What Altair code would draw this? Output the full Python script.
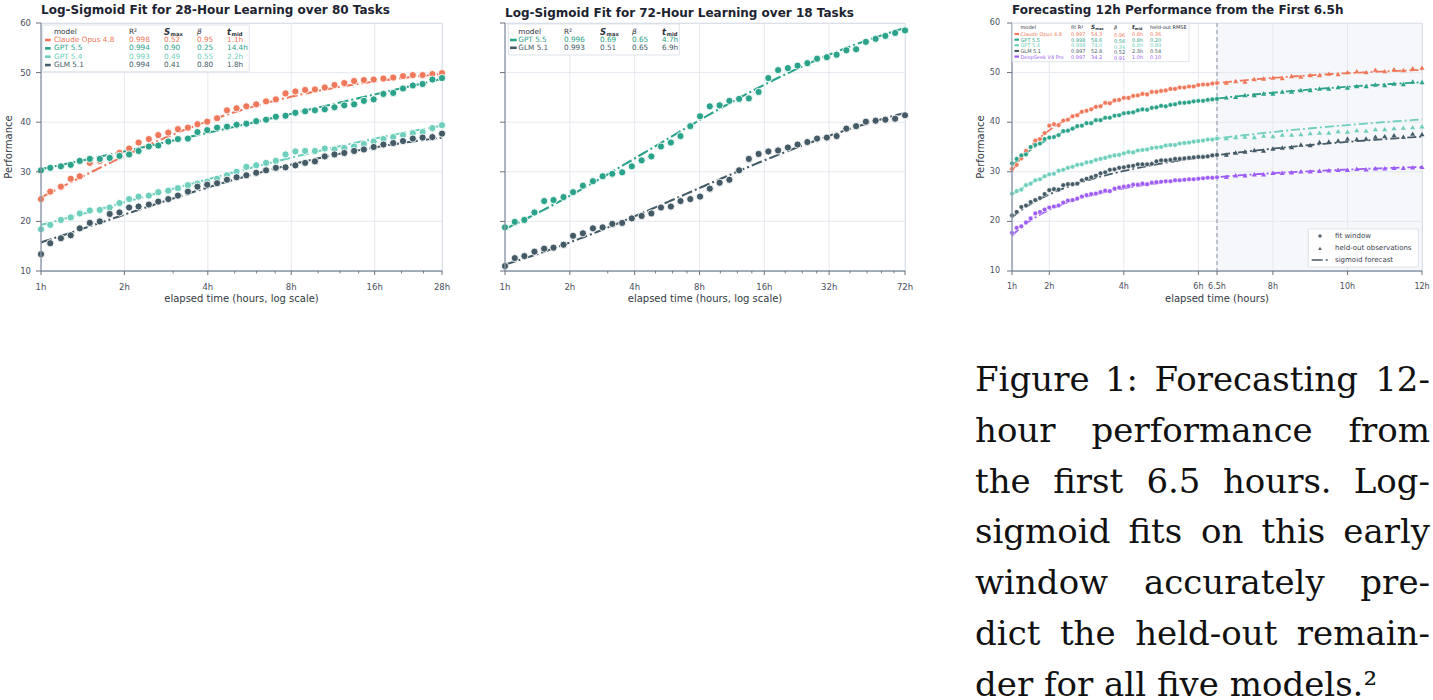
import altair as alt
import numpy as np
import pandas as pd

FONT = "DejaVu Sans"
SERIF = "DejaVu Serif"
INK = "#1d2330"
LABEL = "#4a505c"
AXIS_TITLE = "#333a45"
GRID = "#e3e7ee"
DOMAIN = "#8d98aa"
TICK = "#59616e"
FRAME = "#d7dde5"

MODELS = ["Claude Opus 4.8", "GPT 5.5", "GPT 5.4", "GLM 5.1", "DeepSeek V4 Pro"]
COLORS = ["#f0785a", "#2ba38a", "#6fcfbd", "#445b67", "#9d5cf5"]
COLOR = alt.Scale(domain=MODELS, range=COLORS)

PERF_TICKS = [10, 20, 30, 40, 50, 60]

# ---------------- 28-hour run, 80 tasks ----------------
A_NAMES = ["Claude Opus 4.8", "GPT 5.5", "GPT 5.4", "GLM 5.1"]
A_HOURS = [1.00, 1.08, 1.18, 1.28, 1.38, 1.50, 1.63, 1.77, 1.92, 2.08,
           2.25, 2.45, 2.65, 2.88, 3.12, 3.39, 3.67, 3.98, 4.32, 4.69,
           5.08, 5.51, 5.98, 6.49, 7.04, 7.63, 8.28, 8.98, 9.74, 10.57,
           11.46, 12.43, 13.49, 14.63, 15.87, 17.21, 18.67, 20.25, 21.97, 23.83,
           25.85, 28.00]
A_CLAUDE = [24.5, 26.0, 27.0, 28.6, 29.1, 31.8, 32.2, 32.9, 33.8, 34.7,
            35.9, 36.6, 37.4, 37.9, 38.6, 38.9, 39.6, 40.1, 40.8, 42.4,
            42.8, 43.2, 43.6, 44.2, 44.6, 45.8, 46.2, 46.5, 46.6, 47.0,
            47.5, 47.9, 48.3, 48.5, 48.6, 48.8, 49.0, 49.3, 49.5, 49.5,
            49.7, 49.9]
A_GPT55 = [30.3, 30.8, 31.1, 31.4, 32.2, 32.6, 32.6, 32.8, 33.2, 33.5,
           34.2, 35.1, 35.3, 36.1, 36.6, 36.7, 38.0, 38.4, 38.9, 39.1,
           39.5, 39.7, 40.2, 40.5, 41.1, 41.3, 41.9, 42.2, 42.4, 42.6,
           43.0, 43.4, 43.6, 44.3, 44.6, 45.7, 45.9, 46.8, 47.4, 47.7,
           48.6, 48.9]
A_GPT54 = [18.4, 19.3, 20.3, 20.8, 21.6, 22.2, 22.3, 22.8, 23.7, 24.5,
           25.0, 25.2, 25.9, 26.2, 26.7, 27.3, 27.6, 28.0, 28.6, 29.3,
           30.0, 31.0, 31.3, 31.8, 32.2, 33.5, 34.1, 34.2, 34.2, 34.7,
           34.5, 34.8, 35.1, 35.6, 36.1, 36.6, 37.0, 37.4, 37.8, 38.0,
           38.8, 39.4]
A_GLM = [13.4, 15.6, 16.6, 17.2, 18.6, 19.7, 20.0, 21.5, 21.8, 22.8,
         23.0, 23.4, 24.0, 24.5, 25.2, 26.0, 27.0, 27.4, 27.7, 28.4,
         28.9, 29.3, 29.8, 30.3, 30.8, 30.9, 31.3, 31.8, 32.1, 33.1,
         33.5, 33.8, 34.2, 34.5, 35.0, 35.5, 35.8, 36.2, 36.7, 36.9,
         37.0, 37.7]
A_R2 = [0.998, 0.994, 0.993, 0.994]
A_SMAX = [0.52, 0.90, 0.49, 0.41]
A_BETA = [0.95, 0.25, 0.55, 0.80]
A_TMID = [1.1, 14.4, 2.2, 1.8]
A_MAJOR = [1, 2, 4, 8, 16, 28]
A_MINOR = [3, 5, 6, 7, 10, 12, 14, 20, 24]

# ---------------- 72-hour run, 18 tasks ----------------
B_NAMES = ["GPT 5.5", "GLM 5.1"]
B_HOURS = [1.00, 1.11, 1.23, 1.37, 1.52, 1.68, 1.87, 2.07, 2.30, 2.56,
           2.84, 3.15, 3.50, 3.88, 4.31, 4.78, 5.30, 5.89, 6.53, 7.25,
           8.05, 8.93, 9.92, 11.01, 12.22, 13.56, 15.05, 16.70, 18.54, 20.58,
           22.84, 25.35, 28.13, 31.22, 34.66, 38.47, 42.69, 47.39, 52.59, 58.37,
           64.79, 72.00]
B_GPT55 = [18.8, 19.9, 20.3, 21.8, 24.1, 24.3, 24.9, 25.9, 27.2, 28.1,
           29.1, 29.6, 29.9, 31.1, 32.3, 33.1, 35.1, 35.9, 37.2, 39.2,
           41.2, 43.2, 43.4, 44.3, 44.7, 44.8, 46.1, 48.9, 50.5, 50.9,
           51.4, 51.9, 52.8, 53.1, 53.6, 54.5, 54.7, 56.2, 56.8, 57.4,
           58.0, 58.5]
B_GLM = [11.0, 12.6, 13.0, 13.9, 14.5, 14.7, 15.3, 17.1, 17.6, 18.6,
         18.8, 19.5, 19.7, 20.6, 21.1, 21.6, 22.8, 23.0, 24.1, 24.5,
         25.0, 26.6, 27.8, 28.4, 30.3, 32.6, 33.6, 34.1, 34.3, 34.9,
         35.5, 36.0, 36.7, 36.9, 37.2, 38.7, 39.2, 40.1, 40.3, 40.5,
         40.7, 41.4]
B_R2 = [0.996, 0.993]
B_SMAX = [0.69, 0.51]
B_BETA = [0.65, 0.65]
B_TMID = [4.7, 6.9]
B_MAJOR = [1, 2, 4, 8, 16, 32, 72]
B_MINOR = [3, 5, 6, 7, 10, 12, 14, 20, 24, 28, 40, 48, 56, 64]

# ---------------- 12-hour forecast from the first 6.5 h ----------------
C_FIT_HOURS = [1.0, 1.125, 1.25, 1.375, 1.5, 1.625, 1.75, 1.875, 2.0, 2.125,
               2.25, 2.375, 2.5, 2.625, 2.75, 2.875, 3.0, 3.125, 3.25, 3.375,
               3.5, 3.625, 3.75, 3.875, 4.0, 4.125, 4.25, 4.375, 4.5, 4.625,
               4.75, 4.875, 5.0, 5.125, 5.25, 5.375, 5.5, 5.625, 5.75, 5.875,
               6.0, 6.125, 6.25, 6.375, 6.5]
C_HELD_HOURS = [6.75, 7.0, 7.25, 7.5, 7.75, 8.0, 8.25, 8.5, 8.75, 9.0, 9.25,
                9.5, 9.75, 10.0, 10.25, 10.5, 10.75, 11.0, 11.25, 11.5, 11.75, 12.0]
C_FIT = {
    "Claude Opus 4.8": [30.6, 31.4, 32.7, 34.2, 34.9, 36.3, 36.6, 37.8, 39.3, 39.6,
                        39.4, 40.3, 40.5, 41.2, 41.4, 42.1, 42.3, 42.6, 43.1, 43.2,
                        43.9, 43.8, 44.4, 44.5, 44.9, 44.9, 45.3, 45.4, 45.7, 45.6,
                        46.1, 46.1, 46.3, 46.4, 46.7, 46.7, 47.0, 47.0, 47.2, 47.2,
                        47.5, 47.6, 47.6, 47.8, 47.9],
    "GPT 5.5": [31.7, 32.6, 33.3, 33.5, 35.0, 35.4, 35.7, 36.6, 36.9, 37.0,
                37.4, 38.2, 38.3, 38.7, 39.2, 39.3, 39.8, 39.8, 40.4, 40.4,
                40.9, 40.9, 41.3, 41.4, 41.8, 41.9, 42.0, 42.4, 42.6, 42.5,
                42.9, 43.0, 43.3, 43.2, 43.5, 43.6, 43.9, 43.9, 44.0, 44.2,
                44.3, 44.3, 44.5, 44.6, 44.7],
    "GPT 5.4": [25.6, 26.1, 26.4, 27.3, 27.6, 28.3, 28.5, 29.1, 29.5, 29.6,
                30.2, 30.4, 30.8, 31.0, 31.4, 31.5, 31.9, 32.0, 32.4, 32.6,
                32.8, 33.1, 33.3, 33.4, 33.7, 34.0, 33.9, 34.3, 34.4, 34.5,
                34.8, 34.9, 35.0, 35.3, 35.4, 35.4, 35.7, 35.8, 35.9, 36.1,
                36.2, 36.3, 36.5, 36.5, 36.7],
    "GLM 5.1": [21.2, 21.9, 22.9, 23.2, 23.9, 24.3, 24.7, 25.5, 26.3, 26.5,
                26.4, 27.3, 27.5, 27.5, 27.6, 28.3, 28.6, 28.9, 29.2, 29.7,
                29.9, 30.4, 30.5, 30.8, 30.9, 31.1, 31.2, 31.5, 31.5, 31.5,
                31.6, 32.1, 32.3, 32.3, 32.4, 32.6, 32.6, 32.7, 32.8, 32.9,
                33.0, 33.0, 33.1, 33.3, 33.4],
    "DeepSeek V4 Pro": [17.7, 18.7, 19.0, 19.8, 20.6, 21.6, 21.9, 22.4, 22.8, 23.0,
                        23.2, 23.8, 24.2, 24.3, 24.6, 25.0, 25.3, 25.5, 25.6, 25.9,
                        26.2, 26.1, 26.6, 26.8, 27.0, 27.1, 27.4, 27.4, 27.6, 27.5,
                        27.8, 27.9, 28.0, 28.1, 28.1, 28.3, 28.3, 28.4, 28.5, 28.5,
                        28.6, 28.7, 28.8, 28.8, 28.9],
}
C_HELD = {
    "Claude Opus 4.8": [48.0, 48.3, 48.2, 48.7, 48.8, 49.0, 48.9, 49.3, 49.2, 49.5, 49.5,
                        49.8, 49.7, 50.1, 50.3, 50.1, 50.6, 50.3, 50.7, 50.5, 50.9, 51.0],
    "GPT 5.5": [45.0, 45.1, 45.5, 45.5, 45.8, 45.8, 46.2, 46.2, 46.5, 46.5, 46.8,
                46.8, 47.1, 47.0, 47.3, 47.3, 47.6, 47.5, 47.8, 47.7, 48.2, 48.1],
    "GPT 5.4": [36.8, 37.0, 37.1, 37.0, 37.3, 37.2, 37.5, 37.5, 37.6, 37.8, 37.9,
                37.9, 38.2, 38.1, 38.4, 38.3, 38.6, 38.6, 38.8, 38.9, 39.0, 39.2],
    "GLM 5.1": [33.5, 33.9, 34.1, 34.4, 34.3, 34.7, 34.9, 35.0, 35.5, 35.4, 36.0,
                36.1, 36.3, 36.7, 36.6, 36.7, 37.1, 37.2, 37.4, 37.1, 37.7, 37.6],
    "DeepSeek V4 Pro": [29.0, 29.3, 29.3, 29.5, 29.5, 29.8, 29.8, 29.9, 30.1, 30.1, 30.2,
                        30.3, 30.4, 30.4, 30.6, 30.5, 30.7, 30.7, 30.8, 30.8, 30.9, 31.0],
}
C_R2 = [0.997, 0.998, 0.998, 0.997, 0.997]
C_SMAX = [54.3, 58.6, 74.0, 52.8, 34.2]
C_BETA = [0.96, 0.56, 0.34, 0.52, 0.91]
C_TMID = [0.8, 0.8, 6.8, 2.3, 1.0]
C_RMSE = [0.36, 0.20, 0.89, 0.54, 0.10]
C_SPLIT = 6.5
C_END = 12.0
C_TICKS = [1, 2, 4, 6, 6.5, 8, 10, 12]
KEY_LABELS = ["fit window", "held-out observations", "sigmoid forecast"]

CAPTION = [
    "Figure 1: Forecasting 12-",
    "hour performance from",
    "the first 6.5 hours. Log-",
    "sigmoid fits on this early",
    "window accurately pre-",
    "dict the held-out remain-",
    "der for all five models.\u00b2",
]

W1, W2, W3, H = 401, 400, 410, 248
ONE = pd.DataFrame({"k": [0]})
Y_SCALE = alt.Scale(domain=[10, 60], nice=False, zero=False)

# approximate advance widths (em) of DejaVu Serif, used to justify the caption lines
SERIF_EM = {
    " ": 0.318, "a": 0.594, "b": 0.640, "c": 0.560, "d": 0.640, "e": 0.592, "f": 0.370,
    "g": 0.640, "h": 0.644, "i": 0.320, "l": 0.320, "m": 0.948, "n": 0.644, "o": 0.602,
    "p": 0.640, "r": 0.478, "s": 0.513, "t": 0.402, "u": 0.644, "v": 0.565, "w": 0.855,
    "y": 0.565, "F": 0.667, "L": 0.653, ".": 0.318, ":": 0.337, "-": 0.338,
    "1": 0.636, "2": 0.636, "5": 0.636, "6": 0.636,
}


def log_sigmoid(t, smax, beta, tmid):
    return smax / (1.0 + (t / tmid) ** (-beta))


def points_frame(hours, names, series):
    rows = []
    for name, vals in zip(names, series):
        for t, v in zip(hours, vals):
            rows.append({"model": name, "t": t, "v": v})
    return pd.DataFrame(rows)


def curve_frame(grid, names, smax, beta, tmid, unit):
    rows = []
    for name, s, b, tm in zip(names, smax, beta, tmid):
        for t in grid:
            rows.append({"model": name, "t": float(t), "v": log_sigmoid(float(t), unit * s, b, tm)})
    return pd.DataFrame(rows)


def hour_label(v):
    return f"{v:g}h"


# overlay marks (tables, keys, caption) use a pixel-for-pixel scale
def ox(field, w):
    return alt.X(f"{field}:Q", scale=alt.Scale(domain=[0, w], range=[0, w], nice=False, zero=False),
                 axis=None)


def oy(field):
    return alt.Y(f"{field}:Q", scale=alt.Scale(domain=[0, H], range=[0, H], nice=False, zero=False),
                 axis=None)


def color_enc():
    return alt.Color("model:N", scale=COLOR, legend=None)


def frame_box(x0, y0, x1, y1):
    return alt.Chart(ONE).mark_rect(fill="white", stroke=FRAME, strokeWidth=0.8).encode(
        x=alt.value(x0), x2=alt.value(x1), y=alt.value(y0), y2=alt.value(y1))


def stat_table(names, columns, lay, w):
    rows_y = [lay["row0"] + lay["dy"] * i for i in range(len(names))]
    cells = []
    for i, name in enumerate(names):
        cells.append({"model": name, "txt": name, "cx": lay["cols"][0], "cy": rows_y[i]})
        for j, col in enumerate(columns):
            cells.append({"model": name, "txt": col[i], "cx": lay["cols"][j + 1],
                          "cy": rows_y[i] + lay["shift"][j]})
    cells = pd.DataFrame(cells)
    marks = pd.DataFrame({"model": names, "sx": lay["sym"][0], "sx2": lay["sym"][1], "cy": rows_y})
    layers = [
        frame_box(*lay["box"]),
        alt.Chart(marks).mark_rule(strokeWidth=lay["sw"]).encode(
            x=ox("sx", w), x2="sx2:Q", y=oy("cy"), color=color_enc()),
        alt.Chart(cells).mark_text(align="left", baseline="middle", fontSize=lay["fs"]).encode(
            x=ox("cx", w), y=oy("cy"), text="txt:N", color=color_enc()),
    ]
    styles = {
        "plain": dict(fontSize=lay["fs"]),
        "ital": dict(fontSize=lay["fs"], fontStyle="italic"),
        "sym": dict(fontSize=lay["sym_fs"], fontStyle="italic", fontWeight="bold"),
        "sub": dict(fontSize=lay["sub_fs"], fontWeight="bold", dy=lay["sub_dy"]),
    }
    for kind, style in styles.items():
        items = [h for h in lay["head"] if h[2] == kind]
        if not items:
            continue
        hdf = pd.DataFrame({"txt": [h[0] for h in items], "cx": [h[1] for h in items],
                            "cy": lay["head_y"]})
        layers.append(alt.Chart(hdf).mark_text(align="left", baseline="middle", color="#2b313b",
                                               **style).encode(x=ox("cx", w), y=oy("cy"), text="txt:N"))
    return layers


def frame_layers(xs, width, major, minor, x_fs, x_title, y_title, y_fs, y_label_x, y_title_x):
    """Grid, spines, ticks, tick labels and axis titles, drawn as marks on the panel scales."""
    xdf = pd.DataFrame({"t": major, "lab": [hour_label(v) for v in major]})
    ydf = pd.DataFrame({"v": PERF_TICKS, "lab": [str(v) for v in PERF_TICKS]})
    xpos = alt.X("t:Q", scale=xs, axis=None)
    ypos = alt.Y("v:Q", scale=Y_SCALE, axis=None)
    grid = [
        alt.Chart(xdf).mark_rule(color=GRID, strokeWidth=0.9).encode(
            x=xpos, y=alt.value(0), y2=alt.value(H)),
        alt.Chart(ydf).mark_rule(color=GRID, strokeWidth=0.9).encode(
            y=ypos, x=alt.value(0), x2=alt.value(width)),
    ]
    guides = [
        alt.Chart(ONE).mark_rule(color=DOMAIN, strokeWidth=1.3).encode(
            x=alt.value(0), x2=alt.value(width), y=alt.value(H)),
        alt.Chart(ONE).mark_rule(color=DOMAIN, strokeWidth=1.3).encode(
            x=alt.value(0), y=alt.value(0), y2=alt.value(H)),
        alt.Chart(xdf).mark_rule(color=TICK, strokeWidth=0.9).encode(
            x=xpos, y=alt.value(H), y2=alt.value(H + 4)),
        alt.Chart(ydf).mark_rule(color=TICK, strokeWidth=0.9).encode(
            y=ypos, x=alt.value(-5), x2=alt.value(0)),
        alt.Chart(xdf).mark_text(align="center", baseline="middle", fontSize=x_fs, color=LABEL).encode(
            x=xpos, y=alt.value(H + 16), text="lab:N"),
        alt.Chart(ONE).mark_text(text=x_title, align="center", baseline="middle", fontSize=10,
                                 color=AXIS_TITLE).encode(x=alt.value(width / 2), y=alt.value(H + 28)),
    ]
    if minor:
        guides.append(alt.Chart(pd.DataFrame({"t": minor})).mark_rule(color=TICK, strokeWidth=0.8).encode(
            x=xpos, y=alt.value(H), y2=alt.value(H + 2.5)))
    if y_title:
        guides.append(alt.Chart(ydf).mark_text(align="right", baseline="middle", fontSize=y_fs,
                                               color=LABEL).encode(
            y=ypos, x=alt.value(y_label_x), text="lab:N"))
        guides.append(alt.Chart(ONE).mark_text(text=y_title, align="center", baseline="middle", angle=270,
                                               fontSize=10, color=AXIS_TITLE).encode(
            x=alt.value(y_title_x), y=alt.value(H / 2)))
    return grid, guides


def panel_title(text):
    return alt.TitleParams(text, anchor="start", frame="group", fontSize=12, fontWeight="bold",
                           color=INK, offset=2)


def combine(data_layers, overlay_layers, width, title):
    return alt.layer(alt.layer(*data_layers), alt.layer(*overlay_layers)).resolve_scale(
        x="independent", y="independent").properties(width=width, height=H, title=panel_title(title))


def log_panel(title, names, hours, series, r2, smax, beta, tmid, xmax, major, minor,
              width, show_y, lay):
    xs = alt.Scale(type="log", domain=[1, xmax], nice=False)
    pts = points_frame(hours, names, series)
    fit = curve_frame(np.geomspace(1, xmax, 160), names, smax, beta, tmid, 100.0)
    lines = alt.Chart(fit).mark_line(strokeWidth=2.1, strokeDash=[11, 3, 2, 3]).encode(
        x=alt.X("t:Q", scale=xs, axis=None), y=alt.Y("v:Q", scale=Y_SCALE, axis=None),
        color=color_enc(), detail="model:N")
    dots = alt.Chart(pts).mark_circle(size=52, opacity=1, stroke="white", strokeWidth=0.9).encode(
        x=alt.X("t:Q", scale=xs, axis=None), y=alt.Y("v:Q", scale=Y_SCALE, axis=None),
        color=color_enc())
    grid, guides = frame_layers(xs, width, major, minor, 8.5, "elapsed time (hours, log scale)",
                                "Performance" if show_y else None, 8.5, -10, -32.3)
    cols = [[f"{v:.3f}" for v in r2], [f"{v:.2f}" for v in smax],
            [f"{v:.2f}" for v in beta], [f"{v:.1f}h" for v in tmid]]
    table = stat_table(names, cols, lay, width)
    return combine(grid + [lines, dots] + guides, table, width, title)


LAY_A = dict(box=(1.7, 2, 208.3, 48.7), row0=17, dy=8.35, head_y=8.8, fs=7.3, sym_fs=8.5,
             sub_fs=5.2, sub_dy=2, sw=2.6, sym=(4, 9.7), cols=[13, 88, 123, 156, 186],
             shift=[0, 0, 0, 0],
             head=[("model", 13, "plain"), ("R\u00b2", 88, "plain"), ("S", 123, "sym"),
                   ("max", 129.5, "sub"), ("\u03b2", 156, "ital"), ("t", 186, "sym"),
                   ("mid", 190.5, "sub")])
LAY_B = dict(box=(3.3, 1, 174.3, 32), row0=17, dy=7.8, head_y=8.7, fs=7.3, sym_fs=8.5,
             sub_fs=5.2, sub_dy=2, sw=2.6, sym=(5, 11.7), cols=[13.3, 59, 95, 127, 157],
             shift=[0, 0, 0, 0],
             head=[("model", 13.3, "plain"), ("R\u00b2", 59, "plain"), ("S", 95, "sym"),
                   ("max", 101.5, "sub"), ("\u03b2", 127, "ital"), ("t", 157, "sym"),
                   ("mid", 161.5, "sub")])
LAY_C = dict(box=(0.5, 0.3, 177, 38.7), row0=11, dy=5.65, head_y=4.3, fs=5, sym_fs=5.8,
             sub_fs=3.6, sub_dy=1.3, sw=2.2, sym=(2.5, 7), cols=[8.5, 59, 79, 102, 120, 138],
             shift=[0, 0, 1.3, 0, 0],
             head=[("model", 8.5, "plain"), ("fit R\u00b2", 59, "plain"), ("S", 79, "sym"),
                   ("max", 83.2, "sub"), ("\u03b2", 102, "ital"), ("t", 120, "sym"),
                   ("mid", 122.8, "sub"), ("held-out RMSE", 138, "plain")])

p1 = log_panel("Log-Sigmoid Fit for 28-Hour Learning over 80 Tasks", A_NAMES, A_HOURS,
               [A_CLAUDE, A_GPT55, A_GPT54, A_GLM], A_R2, A_SMAX, A_BETA, A_TMID,
               28, A_MAJOR, A_MINOR, W1, True, LAY_A)
p2 = log_panel("Log-Sigmoid Fit for 72-Hour Learning over 18 Tasks", B_NAMES, B_HOURS,
               [B_GPT55, B_GLM], B_R2, B_SMAX, B_BETA, B_TMID,
               72, B_MAJOR, B_MINOR, W2, False, LAY_B)

# ---- forecast panel ----
xs3 = alt.Scale(domain=[1, C_END], nice=False, zero=False)
fit_pts = points_frame(C_FIT_HOURS, MODELS, [C_FIT[m] for m in MODELS])
held_pts = points_frame(C_HELD_HOURS, MODELS, [C_HELD[m] for m in MODELS])
c_curve = curve_frame(np.linspace(1, C_END, 160), MODELS, C_SMAX, C_BETA, C_TMID, 1.0)

shade = alt.Chart(pd.DataFrame({"t0": [C_SPLIT], "t1": [C_END]})).mark_rect(
    color="#e9edf4", opacity=0.45).encode(
    x=alt.X("t0:Q", scale=xs3, axis=None), x2="t1:Q", y=alt.value(0), y2=alt.value(H))
split_rule = alt.Chart(pd.DataFrame({"t": [C_SPLIT]})).mark_rule(
    color="#8792a5", strokeDash=[4, 3], strokeWidth=1).encode(
    x=alt.X("t:Q", scale=xs3, axis=None), y=alt.value(0), y2=alt.value(H))
c_lines = alt.Chart(c_curve).mark_line(strokeWidth=1.8, strokeDash=[9, 3, 2, 3]).encode(
    x=alt.X("t:Q", scale=xs3, axis=None), y=alt.Y("v:Q", scale=Y_SCALE, axis=None),
    color=color_enc(), detail="model:N")
c_dots = alt.Chart(fit_pts).mark_circle(size=22, opacity=1, stroke="white", strokeWidth=0.5).encode(
    x=alt.X("t:Q", scale=xs3, axis=None), y=alt.Y("v:Q", scale=Y_SCALE, axis=None), color=color_enc())
c_tri = alt.Chart(held_pts).mark_point(shape="triangle-up", filled=True, size=26, opacity=1).encode(
    x=alt.X("t:Q", scale=xs3, axis=None), y=alt.Y("v:Q", scale=Y_SCALE, axis=None), color=color_enc())
c_grid, c_guides = frame_layers(xs3, W3, C_TICKS, [], 8, "elapsed time (hours)", "Performance",
                                8, -12, -31)

c_cols = [[f"{v:.3f}" for v in C_R2], [f"{v:.1f}" for v in C_SMAX], [f"{v:.2f}" for v in C_BETA],
          [f"{v:.1f}h" for v in C_TMID], [f"{v:.2f}" for v in C_RMSE]]
c_table = stat_table(MODELS, c_cols, LAY_C, W3)

KEY_INK = "#56656f"
key_box = frame_box(296.3, 206, 406.3, 244)
key_dot = alt.Chart(ONE).mark_point(shape="circle", filled=True, size=12, opacity=1, color=KEY_INK).encode(
    x=alt.value(308), y=alt.value(213))
key_tri = alt.Chart(ONE).mark_point(shape="triangle-up", filled=True, size=14, opacity=1,
                                    color=KEY_INK).encode(x=alt.value(308), y=alt.value(225.3))
key_line = alt.Chart(ONE).mark_rule(color="#4a5a66", strokeWidth=1.6, strokeDash=[11, 3, 2, 3]).encode(
    x=alt.value(299.7), x2=alt.value(317), y=alt.value(237))
key_text = alt.Chart(pd.DataFrame({"txt": KEY_LABELS, "cy": [213, 225.3, 237],
                                   "cx": [323, 323, 323]})).mark_text(
    align="left", baseline="middle", fontSize=7, color="#3a414c").encode(
    x=ox("cx", W3), y=oy("cy"), text="txt:N")

# figure caption set beneath the forecast panel, justified to a fixed measure
CAP_FS = 34
CAP_LEFT = -37
CAP_MEASURE = 455
CAP_Y0 = 368
CAP_DY = 50.8


def word_width(word):
    return CAP_FS * sum(SERIF_EM.get(ch, 0.6) for ch in word)


left_words, right_words = [], []
for i, line in enumerate(CAPTION):
    y = CAP_Y0 + CAP_DY * i
    words = line.split(" ")
    if i == len(CAPTION) - 1:
        left_words.append({"w": line, "cx": CAP_LEFT, "cy": y})
        continue
    widths = [word_width(w) for w in words]
    gap = (CAP_MEASURE - sum(widths)) / (len(words) - 1)
    x = CAP_LEFT
    for j, (w, wd) in enumerate(zip(words, widths)):
        if j == len(words) - 1:
            right_words.append({"w": w, "cx": CAP_LEFT + CAP_MEASURE, "cy": y})
        else:
            left_words.append({"w": w, "cx": x, "cy": y})
        x += wd + gap

caption = [
    alt.Chart(pd.DataFrame(rows)).mark_text(
        align=anchor, baseline="alphabetic", font=SERIF, fontSize=CAP_FS, color="#111111").encode(
        x=ox("cx", W3), y=oy("cy"), text="w:N")
    for rows, anchor in ((left_words, "left"), (right_words, "right"))
]

p3 = combine([shade] + c_grid + [split_rule, c_lines, c_dots, c_tri] + c_guides,
             c_table + [key_box, key_dot, key_tri, key_line, key_text] + caption,
             W3, "Forecasting 12h Performance from the First 6.5h")

left = alt.hconcat(p1, p2, spacing=48)
chart = alt.hconcat(left, p3, spacing=60).properties(
    padding={"left": 3, "top": 3, "right": 0, "bottom": 0}
).configure(font=FONT).configure_view(stroke=FRAME)

chart.save("out.html", embed_options={"renderer": "svg", "actions": False})
